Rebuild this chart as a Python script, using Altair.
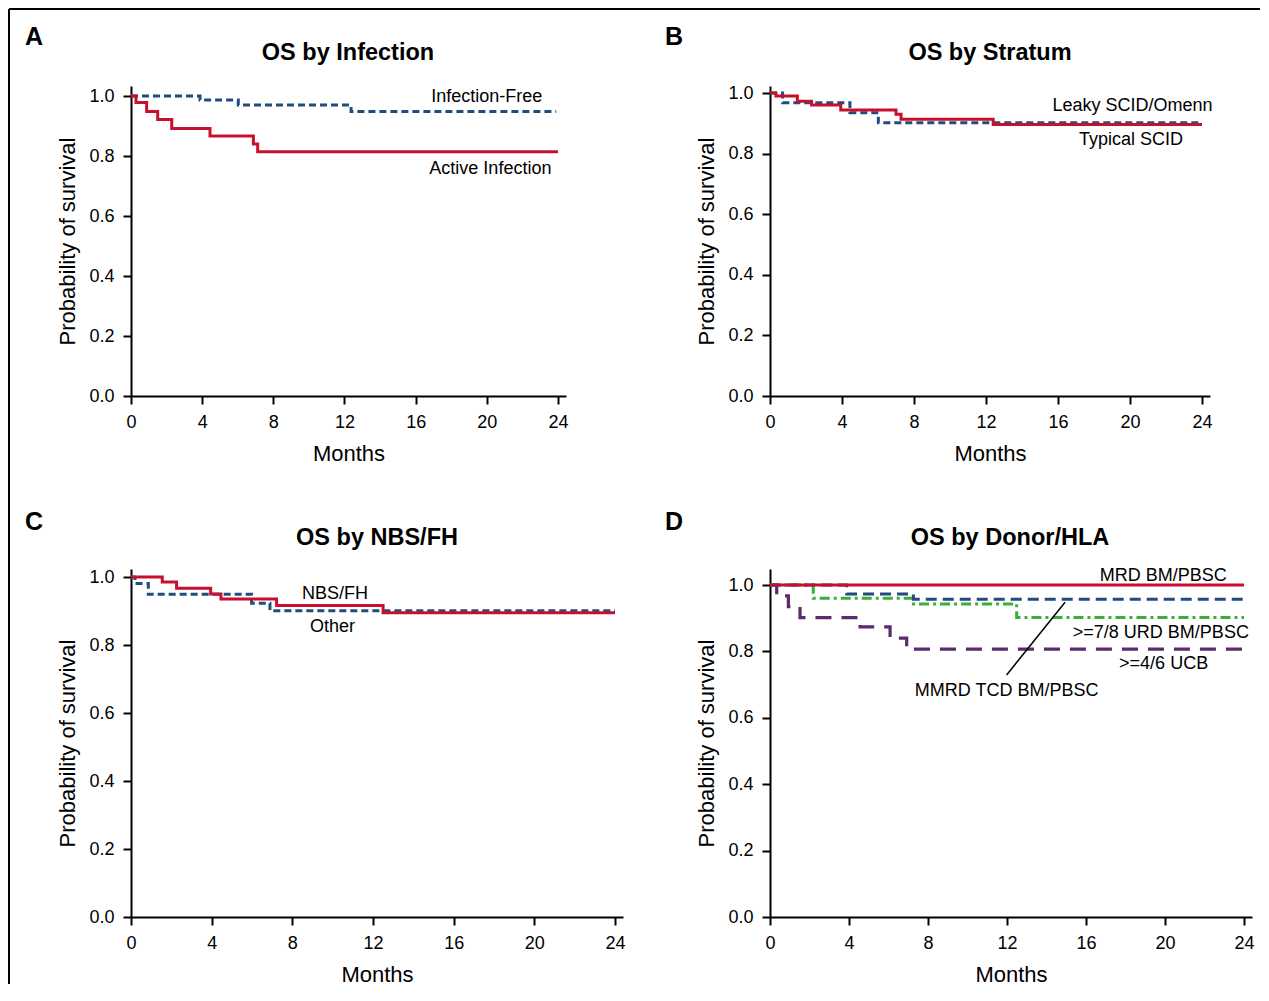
import altair as alt
import pandas as pd

FONT = "Liberation Sans"
RED = "#c8102e"
BLUE = "#1f4e7d"
GREEN = "#3cae3c"
PURPLE = "#5b2b6d"

# ---------------- data ----------------
x_ticks = [0, 4, 8, 12, 16, 20, 24]
y_ticks = [0.0, 0.2, 0.4, 0.6, 0.8, 1.0]

# Panel A - OS by Infection
a_free_t = [0, 3.88, 6.03, 12.37, 23.9]
a_free_s = [1.0, 0.987, 0.970, 0.948, 0.948]
a_act_t = [0, 0.28, 0.88, 1.50, 2.29, 4.44, 6.88, 7.12, 24.0]
a_act_s = [1.0, 0.978, 0.948, 0.922, 0.892, 0.867, 0.840, 0.814, 0.814]

# Panel B - OS by Stratum
b_leaky_t = [0, 0.70, 4.44, 6.02, 24.0]
b_leaky_s = [1.0, 0.968, 0.935, 0.902, 0.902]
b_typ_t = [0, 0.33, 1.52, 2.31, 3.93, 7.00, 7.28, 12.40, 24.0]
b_typ_s = [1.0, 0.990, 0.973, 0.960, 0.944, 0.930, 0.913, 0.896, 0.896]

# Panel C - OS by NBS/FH
c_other_t = [0, 0.20, 0.86, 5.98, 6.89, 24.0]
c_other_s = [1.0, 0.981, 0.949, 0.923, 0.901, 0.901]
c_nbs_t = [0, 1.55, 2.26, 3.95, 4.46, 7.22, 12.50, 24.0]
c_nbs_s = [1.0, 0.985, 0.967, 0.950, 0.935, 0.916, 0.895, 0.895]

# Panel D - OS by Donor/HLA
d_mrd_t = [0, 24.0]
d_mrd_s = [1.0, 1.0]
d_mmrd_t = [0, 3.88, 7.26, 24.0]
d_mmrd_s = [1.0, 0.973, 0.957, 0.957]
d_urd_t = [0, 2.19, 7.26, 12.49, 24.0]
d_urd_s = [1.0, 0.960, 0.943, 0.902, 0.902]
d_ucb_t = [0, 0.34, 0.93, 1.52, 4.56, 6.08, 6.92, 24.0]
d_ucb_s = [1.0, 0.967, 0.935, 0.902, 0.874, 0.840, 0.807, 0.807]

# curve labels: text, month, probability
a_labels = [("Infection-Free", 20.0, 0.981), ("Active Infection", 20.2, 0.740)]
b_labels = [("Leaky SCID/Omenn", 20.14, 0.941), ("Typical SCID", 20.05, 0.828)]
c_labels = [("NBS/FH", 10.11, 0.935), ("Other", 9.99, 0.839)]
d_labels = [("MRD BM/PBSC", 19.91, 1.013), (">=7/8 URD BM/PBSC", 19.79, 0.841),
            (">=4/6 UCB", 19.93, 0.746), ("MMRD TCD BM/PBSC", 11.98, 0.667)]
# leader line for the MMRD label
d_leader_t = [11.98]
d_leader_t2 = [14.94]
d_leader_s = [0.729]
d_leader_s2 = [0.948]


def km_panel(series, labels, title, letter, w, h, xmax, ymax, title_pos, letter_pos, extra=None):
    xs = alt.Scale(domain=[0, xmax], nice=False, zero=False)
    ys = alt.Scale(domain=[0, ymax], nice=False, zero=False)
    xe = alt.X("t:Q", scale=xs, axis=alt.Axis(values=x_ticks, title="Months", format="d",
                                               labelFlush=False))
    ye = alt.Y("s:Q", scale=ys, axis=alt.Axis(values=y_ticks, format=".1f", labelFlush=False,
                                               title="Probability of survival"))
    layers = []
    for (t, s, color, dash, sw) in series:
        df = pd.DataFrame({"t": t, "s": s})
        kw = dict(interpolate="step-after", color=color, strokeWidth=sw)
        if dash:
            kw["strokeDash"] = dash
        layers.append(alt.Chart(df).mark_line(**kw).encode(x=xe, y=ye))
    lab_df = pd.DataFrame(labels, columns=["text", "t", "s"])
    layers.append(
        alt.Chart(lab_df).mark_text(font=FONT, fontSize=18, color="black", align="center",
                                    baseline="alphabetic").encode(x=xe, y=ye, text="text:N")
    )
    if extra is not None:
        layers.extend(extra(xe, ye))
    layers.append(
        alt.Chart(pd.DataFrame({"text": [title]})).mark_text(
            font=FONT, fontSize=23.5, fontWeight="bold", color="black", align="center",
            baseline="alphabetic").encode(
            x=alt.value(title_pos[0]), y=alt.value(title_pos[1]), text="text:N")
    )
    layers.append(
        alt.Chart(pd.DataFrame({"text": [letter]})).mark_text(
            font=FONT, fontSize=25, fontWeight="bold", color="black", align="left",
            baseline="alphabetic").encode(
            x=alt.value(letter_pos[0]), y=alt.value(letter_pos[1]), text="text:N")
    )
    return alt.layer(*layers).properties(width=w, height=h)


def frame(xe, ye):
    one = pd.DataFrame({"k": [0]})
    v = alt.Chart(one).mark_rule(color="black", strokeWidth=2).encode(
        x=alt.value(-122), y=alt.value(-77), y2=alt.value(898))
    hline = alt.Chart(one).mark_rule(color="black", strokeWidth=2).encode(
        x=alt.value(-122), x2=alt.value(1129), y=alt.value(-77))
    return [v, hline]


def leader(xe, ye):
    df = pd.DataFrame({"t": d_leader_t, "t2": d_leader_t2, "s": d_leader_s, "s2": d_leader_s2})
    return [alt.Chart(df).mark_rule(color="black", strokeWidth=1.5).encode(
        x=xe, x2="t2:Q", y=ye, y2="s2:Q")]


A = km_panel(
    [(a_free_t, a_free_s, BLUE, [7, 4], 3), (a_act_t, a_act_s, RED, None, 3)],
    a_labels, "OS by Infection", "A", 435, 310, 24.45, 310 / 300,
    (217, -26), (-106, -41), extra=frame)

B = km_panel(
    [(b_leaky_t, b_leaky_s, BLUE, [7, 4], 3), (b_typ_t, b_typ_s, RED, None, 3)],
    b_labels, "OS by Stratum", "B", 440, 310, 24.444, 310 / 303,
    (220, -26), (-105, -41))

C = km_panel(
    [(c_other_t, c_other_s, BLUE, [7, 4], 3), (c_nbs_t, c_nbs_s, RED, None, 3)],
    c_labels, "OS by NBS/FH", "C", 492, 348, 24.397, 348 / 340,
    (246, -24), (-106, -39))

D = km_panel(
    [(d_ucb_t, d_ucb_s, PURPLE, [16, 10], 3.2), (d_urd_t, d_urd_s, GREEN, [10, 4, 3, 4], 3),
     (d_mmrd_t, d_mmrd_s, BLUE, [11, 6], 3), (d_mrd_t, d_mrd_s, RED, None, 3)],
    d_labels, "OS by Donor/HLA", "D", 482, 348, 24.405, 348 / 332,
    (240, -24), (-105, -39), extra=leader)

chart = alt.concat(
    A, B, C, D, columns=2,
    spacing=alt.RowColnumber(row=173, column=147),
    bounds="flush",
).properties(padding=0).configure_view(stroke=None).configure_axis(
    domainColor="black", domainWidth=2, tickColor="black", tickWidth=2, tickSize=8,
    labelFont=FONT, labelFontSize=18, labelColor="black",
    titleFont=FONT, titleFontSize=22, titleFontWeight="normal", titleColor="black",
    grid=False,
).configure_axisX(labelPadding=9, titlePadding=12).configure_axisY(
    labelPadding=9, titlePadding=9)

chart.save("out.html", embed_options={"renderer": "svg", "actions": False})
